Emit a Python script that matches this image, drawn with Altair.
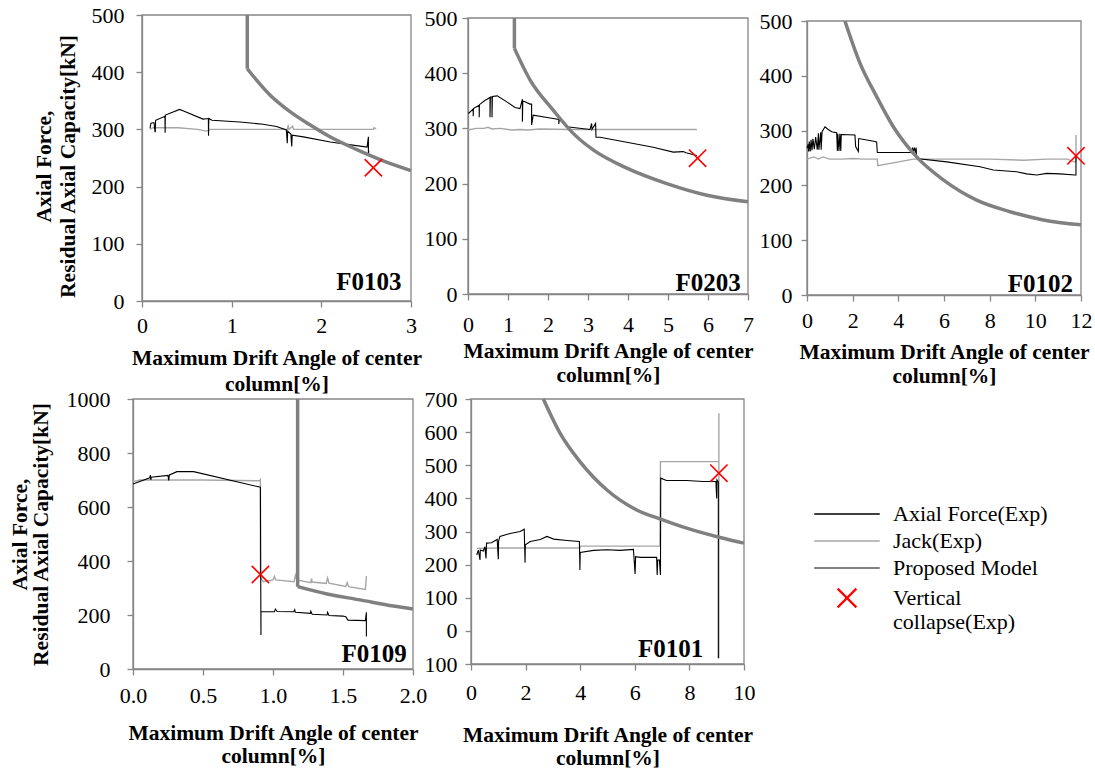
import altair as alt
import pandas as pd

FONT = "Liberation Serif"
AXIS_GRAY = "#868686"
JACK_COLOR = "#a6a6a6"
MODEL_COLOR = "#808080"
X_PATH = "M-1,-1L1,1M1,-1L-1,1"
LINE_PATH = "M-3.5,0L3.5,0"

X_TITLE = ["Maximum Drift Angle of center", "column[%]"]
Y_TITLE = ["Axial Force,", "Residual Axial Capacity[kN]"]

F0103_force_x = [0.089, 0.100, 0.134, 0.145, 0.148, 0.152, 0.256, 0.258, 0.260, 0.420, 0.450, 0.680,
                 0.740, 0.742, 0.745, 0.780, 1.090, 1.350, 1.500, 1.610, 1.620, 1.625, 1.660, 1.670,
                 1.675, 1.800, 2.100, 2.370, 2.510, 2.525, 2.525, 2.530]
F0103_force_y = [302, 311, 312, 296, 296, 316, 323, 294, 325, 335, 333, 318,
                 319, 289, 319, 316, 313, 309, 305, 299, 276, 297, 292, 270,
                 290, 287, 278, 272, 269, 287, 257, 262]
F0103_jack_x = [0.09, 0.12, 0.40, 0.62, 0.72, 0.76, 1.62, 1.63, 1.64, 1.68, 1.69, 2.20, 2.58, 2.59, 2.61]
F0103_jack_y = [300, 303, 303, 300, 297, 300, 300, 306, 300, 306, 300, 300, 300, 303, 301]
F0103_model_v_x = [1.174, 1.174]
F0103_model_v_y = [500, 406]
F0103_model_c_x = [1.174, 1.278, 1.427, 1.650, 1.873, 2.096, 2.390, 2.690, 3.000]
F0103_model_c_y = [406, 386, 360, 331, 308, 287, 265, 245, 228]
F0103_collapse = (2.58, 233)

F0203_force_x = [0.01, 0.13, 0.13, 0.135, 0.28, 0.28, 0.285, 0.43, 0.55, 0.55, 0.56, 0.60, 0.60, 0.61,
                 0.73, 0.97, 1.175, 1.30, 1.36, 1.36, 1.37, 1.55, 1.59, 1.59, 1.63, 2.13, 2.27, 2.27,
                 2.28, 2.40, 2.40, 2.41, 2.47, 3.05, 3.09, 3.10, 3.19, 3.20, 3.30, 3.97, 4.63, 5.13,
                 5.38, 5.45, 5.72]
F0203_force_y = [327, 335, 322, 336, 342, 320, 343, 351, 356, 320, 357, 357, 320, 358,
                 359, 348, 338, 336, 353, 312, 350, 344, 344, 306, 324, 318, 316, 308,
                 315, 311, 307, 310, 303, 298, 309, 298, 309, 284, 284, 275, 266, 257,
                 258, 256, 251]
F0203_jack_x = [0.0, 0.2, 0.4, 0.5, 0.6, 0.8, 1.1, 1.3, 1.5, 1.8, 2.5, 3.2, 4.0, 4.8, 5.72]
F0203_jack_y = [297, 300, 300, 302, 299, 300, 297, 298, 297, 299, 298, 298, 298, 298, 298]
F0203_model_v_x = [1.16, 1.16]
F0203_model_v_y = [500, 445]
F0203_model_c_x = [1.16, 1.55, 2.13, 2.63, 3.13, 3.97, 4.97, 5.97, 7.0]
F0203_model_c_y = [445, 388, 333, 291, 261, 228, 200, 179, 167]
F0203_collapse = (5.74, 246)

F0102_force_x = [0.00, 0.05, 0.07, 0.10, 0.14, 0.18, 0.22, 0.26, 0.32, 0.38, 0.45, 0.50, 0.52, 0.60,
                 0.62, 0.66, 0.79, 0.93, 1.08, 1.30, 1.33, 1.35, 1.40, 1.44, 1.48, 1.50, 1.52, 2.10,
                 2.13, 2.25, 2.26, 2.32, 2.98, 3.05, 3.08, 4.58, 4.62, 4.65, 4.70, 4.75, 4.78, 4.80,
                 6.12, 7.58, 8.16, 9.18, 9.62, 10.06, 10.50, 11.08, 11.74, 11.78, 11.78]
F0102_force_y = [268, 275, 262, 280, 262, 283, 264, 285, 266, 288, 265, 295, 265, 297,
                 265, 298, 307, 302, 298, 296, 263, 294, 263, 294, 263, 293, 293, 292,
                 271, 262, 285, 285, 280, 279, 260, 260, 269, 260, 269, 260, 269, 249,
                 243, 234, 228, 225, 221, 219, 222, 221, 219, 219, 255]
F0102_jack_x = [0.0, 0.3, 0.5, 0.7, 1.0, 1.5, 2.0, 2.5, 3.08, 3.10, 4.66, 6.0, 8.0, 9.5, 10.5, 11.4,
                11.7, 11.78, 11.78]
F0102_jack_y = [248, 252, 248, 252, 248, 248, 249, 248, 248, 236, 248, 248, 248, 246, 248, 248,
                243, 243, 292]
F0102_model_c_x = [1.66, 2.32, 3.05, 3.78, 4.8, 5.97, 7.43, 8.89, 10.35, 12.0]
F0102_model_c_y = [500, 423, 362, 307, 252, 210, 173, 152, 137, 128]
F0102_collapse = (11.78, 254)

F0109_force_x = [0.0, 0.12, 0.124, 0.128, 0.13, 0.25, 0.255, 0.26, 0.314, 0.433, 0.91, 0.914, 0.914,
                 0.95, 1.01, 1.017, 1.03, 1.148, 1.155, 1.16, 1.267, 1.27, 1.28, 1.386, 1.39, 1.40,
                 1.50, 1.52, 1.535, 1.66, 1.667, 1.667]
F0109_force_y = [685, 708, 718, 700, 710, 717, 698, 719, 731, 731, 673, 126, 212,
                 212, 212, 222, 213, 212, 220, 210, 206, 214, 203, 200, 210, 198,
                 196, 194, 181, 179, 210, 120]
F0109_jack_x = [0.0, 0.05, 0.2, 0.5, 0.91, 0.91, 0.91, 0.93, 1.0, 1.01, 1.02, 1.15, 1.16, 1.17, 1.27,
                1.275, 1.28, 1.38, 1.39, 1.40, 1.52, 1.53, 1.54, 1.66, 1.667]
F0109_jack_y = [694, 700, 700, 700, 697, 706, 342, 323, 330, 343, 330, 323, 347, 330, 320,
                335, 322, 317, 337, 318, 306, 320, 305, 295, 344]
F0109_model_v_x = [1.176, 1.176]
F0109_model_v_y = [1000, 305]
F0109_model_c_x = [1.176, 1.386, 1.621, 1.86, 2.0]
F0109_model_c_y = [305, 278, 256, 233, 222]
F0109_collapse = (0.91, 350)

F0101_force_x = [0.21, 0.27, 0.33, 0.34, 0.45, 0.51, 0.55, 0.57, 0.75, 0.96, 1.0, 1.01, 1.06, 1.43,
                 1.80, 1.95, 1.98, 1.99, 2.17, 2.54, 2.78, 3.03, 3.52, 3.97, 3.99, 4.0, 4.49, 4.98,
                 5.46, 5.95, 6.01, 6.03, 6.2, 6.8, 6.82, 6.84, 6.9, 6.94, 6.95, 7.16, 7.9, 8.5, 8.97,
                 9.0, 9.01, 9.06, 9.06]
F0101_force_y = [229, 244, 214, 244, 241, 254, 219, 265, 266, 276, 216, 270, 285, 294,
                 300, 307, 206, 260, 270, 276, 285, 277, 273, 270, 184, 237, 243, 245,
                 243, 246, 172, 224, 222, 222, 169, 214, 214, 169, 461, 454, 454, 451, 451,
                 400, 456, 450, -83]
F0101_jack_x = [0.21, 1.0, 2.0, 3.0, 3.99, 3.99, 5.0, 6.92, 6.94, 8.0, 9.0, 9.08, 9.08, 9.08]
F0101_jack_y = [249, 250, 250, 250, 250, 256, 256, 256, 511, 511, 511, 511, 657, -83]
F0101_model_c_x = [2.65, 3.26, 3.99, 4.97, 6.07, 6.92, 7.9, 9.12, 10.0]
F0101_model_c_y = [700, 597, 511, 426, 365, 338, 310, 282, 265]
F0101_collapse = (9.08, 476)

LEGEND_NAMES = ["Axial Force(Exp)", "Jack(Exp)", "Proposed Model", "Vertical collapse(Exp)"]
LEGEND_COLORS = ["#000000", JACK_COLOR, MODEL_COLOR, "#ff0000"]
LEGEND_SHAPES = [LINE_PATH, LINE_PATH, LINE_PATH, X_PATH]
LEGEND_WIDTHS = [1.5, 2.2, 4.0, 1.5]

PANELS = [
    dict(name="F0103", force=(F0103_force_x, F0103_force_y), jack=(F0103_jack_x, F0103_jack_y),
         model=[(F0103_model_v_x, F0103_model_v_y), (F0103_model_c_x, F0103_model_c_y)],
         collapse=F0103_collapse, label_at=(2.895, 19),
         xdom=[0, 3], ydom=[0, 500], xticks=[0, 1, 2, 3], yticks=[0, 100, 200, 300, 400, 500],
         xfmt="d", xrange=[142, 411], yrange=[301, 15],
         ylabpad=12, xlabpad=8, xtitle_y=63, xtitle_lh=26, ytitle=True, ytitle_x=-92, ytitle_y=166,
         ytitle_lh=24),
    dict(name="F0203", force=(F0203_force_x, F0203_force_y), jack=(F0203_jack_x, F0203_jack_y),
         model=[(F0203_model_v_x, F0203_model_v_y), (F0203_model_c_x, F0203_model_c_y)],
         collapse=F0203_collapse, label_at=(6.82, 5.4),
         xdom=[0, 7], ydom=[0, 500], xticks=list(range(0, 8)), yticks=[0, 100, 200, 300, 400, 500],
         xfmt="d", xrange=[468, 748], yrange=[294, 18],
         ylabpad=5, xlabpad=14, xtitle_y=63, xtitle_lh=24, ytitle=False),
    dict(name="F0102", force=(F0102_force_x, F0102_force_y), jack=(F0102_jack_x, F0102_jack_y),
         model=[(F0102_model_c_x, F0102_model_c_y)],
         collapse=F0102_collapse, label_at=(11.65, 6),
         xdom=[0, 12], ydom=[0, 500], xticks=list(range(0, 13, 2)), yticks=[0, 100, 200, 300, 400, 500],
         xfmt="d", xrange=[807, 1081], yrange=[295, 21],
         ylabpad=9, xlabpad=9, xtitle_y=63, xtitle_lh=24, ytitle=False),
    dict(name="F0109", force=(F0109_force_x, F0109_force_y), jack=(F0109_jack_x, F0109_jack_y),
         model=[(F0109_model_v_x, F0109_model_v_y), (F0109_model_c_x, F0109_model_c_y)],
         collapse=F0109_collapse, label_at=(1.955, 27),
         xdom=[0, 2], ydom=[0, 1000], xticks=[0, 0.5, 1.0, 1.5, 2.0], yticks=[0, 200, 400, 600, 800, 1000],
         xfmt=".1f", xrange=[133, 413], yrange=[669, 399],
         ylabpad=17, xlabpad=10, xtitle_y=70, xtitle_lh=23, ytitle=True, ytitle_x=-107, ytitle_y=534,
         ytitle_lh=21.5),
    dict(name="F0101", force=(F0101_force_x, F0101_force_y), jack=(F0101_jack_x, F0101_jack_y),
         model=[(F0101_model_c_x, F0101_model_c_y)],
         collapse=F0101_collapse, label_at=(8.51, -78),
         xdom=[0, 10], ydom=[-100, 700], xticks=list(range(0, 11, 2)), yticks=list(range(-100, 701, 100)),
         xfmt="d", xrange=[471, 744], yrange=[664, 399],
         ylabpad=8, xlabpad=12, xtitle_y=77, xtitle_lh=23, ytitle=False,
         ylabexpr="format(abs(datum.value), 'd')"),
]

TOTAL_W, TOTAL_H = 1095, 771

AXIS_STYLE = dict(labelFont=FONT, labelFontSize=22, labelColor="black",
                  titleFont=FONT, titleFontSize=21.5, titleFontWeight="bold", titleColor="black",
                  domainColor=AXIS_GRAY, domainWidth=1.3, tickColor=AXIS_GRAY, tickWidth=1.3, tickSize=6,
                  grid=False, labelFlush=False, labelOverlap=False)


def series_df(xs, ys):
    return pd.DataFrame({"x": xs, "y": ys, "i": list(range(len(xs)))})


def make_panel(p):
    xsc = alt.Scale(domain=p["xdom"], range=p["xrange"], nice=False, zero=False)
    ysc = alt.Scale(domain=p["ydom"], range=p["yrange"], nice=False, zero=False)
    xaxis = alt.Axis(orient="bottom", offset=p["yrange"][0] - TOTAL_H, values=p["xticks"], format=p["xfmt"],
                     title=X_TITLE, titleY=p["xtitle_y"], titleBaseline="alphabetic",
                     titleLineHeight=p["xtitle_lh"], labelPadding=p["xlabpad"], **AXIS_STYLE)
    ykw = dict(orient="left", offset=-p["xrange"][0], values=p["yticks"], format="d",
               labelPadding=p["ylabpad"], **AXIS_STYLE)
    if "ylabexpr" in p:
        ykw["labelExpr"] = p["ylabexpr"]
    if p["ytitle"]:
        ykw.update(title=Y_TITLE, titleX=p["ytitle_x"], titleY=p["ytitle_y"], titleAngle=270,
                   titleAlign="center", titleBaseline="alphabetic", titleLineHeight=p["ytitle_lh"])
    else:
        ykw["title"] = None
    yaxis = alt.Axis(**ykw)

    frame_df = pd.DataFrame({"x0": [p["xdom"][0]], "x1": [p["xdom"][1]],
                             "y0": [p["ydom"][0]], "y1": [p["ydom"][1]]})
    frame = alt.Chart(frame_df).mark_rect(fillOpacity=0, stroke=AXIS_GRAY, strokeWidth=1.3).encode(
        x=alt.X("x0:Q", scale=xsc, axis=xaxis), x2="x1:Q",
        y=alt.Y("y0:Q", scale=ysc, axis=yaxis), y2="y1:Q")

    def ex():
        return alt.X("x:Q", scale=xsc, axis=xaxis)

    def ey():
        return alt.Y("y:Q", scale=ysc, axis=yaxis)

    jack = alt.Chart(series_df(*p["jack"])).mark_line(color=JACK_COLOR, strokeWidth=1.4).encode(
        x=ex(), y=ey(), order="i:Q")
    force = alt.Chart(series_df(*p["force"])).mark_line(color="black", strokeWidth=1.1).encode(
        x=ex(), y=ey(), order="i:Q")

    rows = []
    for s, (mx, my) in enumerate(p["model"]):
        for k, (a, b) in enumerate(zip(mx, my)):
            rows.append({"x": a, "y": b, "seg": s, "i": k})
    model = alt.Chart(pd.DataFrame(rows)).mark_line(color=MODEL_COLOR, strokeWidth=3.5,
                                                    interpolate="monotone").encode(
        x=ex(), y=ey(), detail="seg:N", order="i:Q")

    cross = alt.Chart(pd.DataFrame({"x": [p["collapse"][0]], "y": [p["collapse"][1]]})).mark_point(
        shape=X_PATH, size=300, filled=False, color="red", strokeWidth=1.6, opacity=1).encode(x=ex(), y=ey())

    label = alt.Chart(pd.DataFrame({"x": [p["label_at"][0]], "y": [p["label_at"][1]], "t": [p["name"]]})).mark_text(
        align="right", baseline="alphabetic", font=FONT, fontSize=25, fontWeight="bold", color="black").encode(
        x=ex(), y=ey(), text="t:N")

    return alt.layer(frame, jack, force, model, cross, label)


panels = [make_panel(p) for p in PANELS]

legend_kw = dict(orient="none", legendX=836, legendY=503, title=None, labelFont=FONT, labelFontSize=22,
                 labelColor="black", symbolSize=350, labelOffset=35, rowPadding=5, labelLimit=0,
                 symbolOpacity=1, direction="vertical",
                 labelExpr="datum.label == 'Vertical collapse(Exp)' ? ['Vertical', 'collapse(Exp)'] : datum.label")

legend_layer = alt.Chart(pd.DataFrame({"series": pd.Series([], dtype=str)})).mark_point(filled=False).encode(
    color=alt.Color("series:N", scale=alt.Scale(domain=LEGEND_NAMES, range=LEGEND_COLORS),
                    legend=alt.Legend(**legend_kw)),
    shape=alt.Shape("series:N", scale=alt.Scale(domain=LEGEND_NAMES, range=LEGEND_SHAPES),
                    legend=alt.Legend(**legend_kw)),
    strokeWidth=alt.StrokeWidth("series:N", scale=alt.Scale(domain=LEGEND_NAMES, range=LEGEND_WIDTHS),
                                legend=alt.Legend(**legend_kw)),
)

chart = alt.layer(*panels, legend_layer).resolve_scale(
    x="independent", y="independent"
).resolve_axis(
    x="independent", y="independent"
).properties(
    width=TOTAL_W, height=TOTAL_H, autosize=alt.AutoSizeParams(type="none"), padding=0
).configure(
    font=FONT,
    style={
        "guide-label": {"font": FONT, "fontSize": 22, "fill": "black"},
        "guide-title": {"font": FONT, "fontSize": 21.5, "fontWeight": "bold", "fill": "black"},
    },
).configure_view(
    stroke=None
).configure_axis(
    **AXIS_STYLE
)

chart.save("out.html", embed_options={"renderer": "svg", "actions": False})
